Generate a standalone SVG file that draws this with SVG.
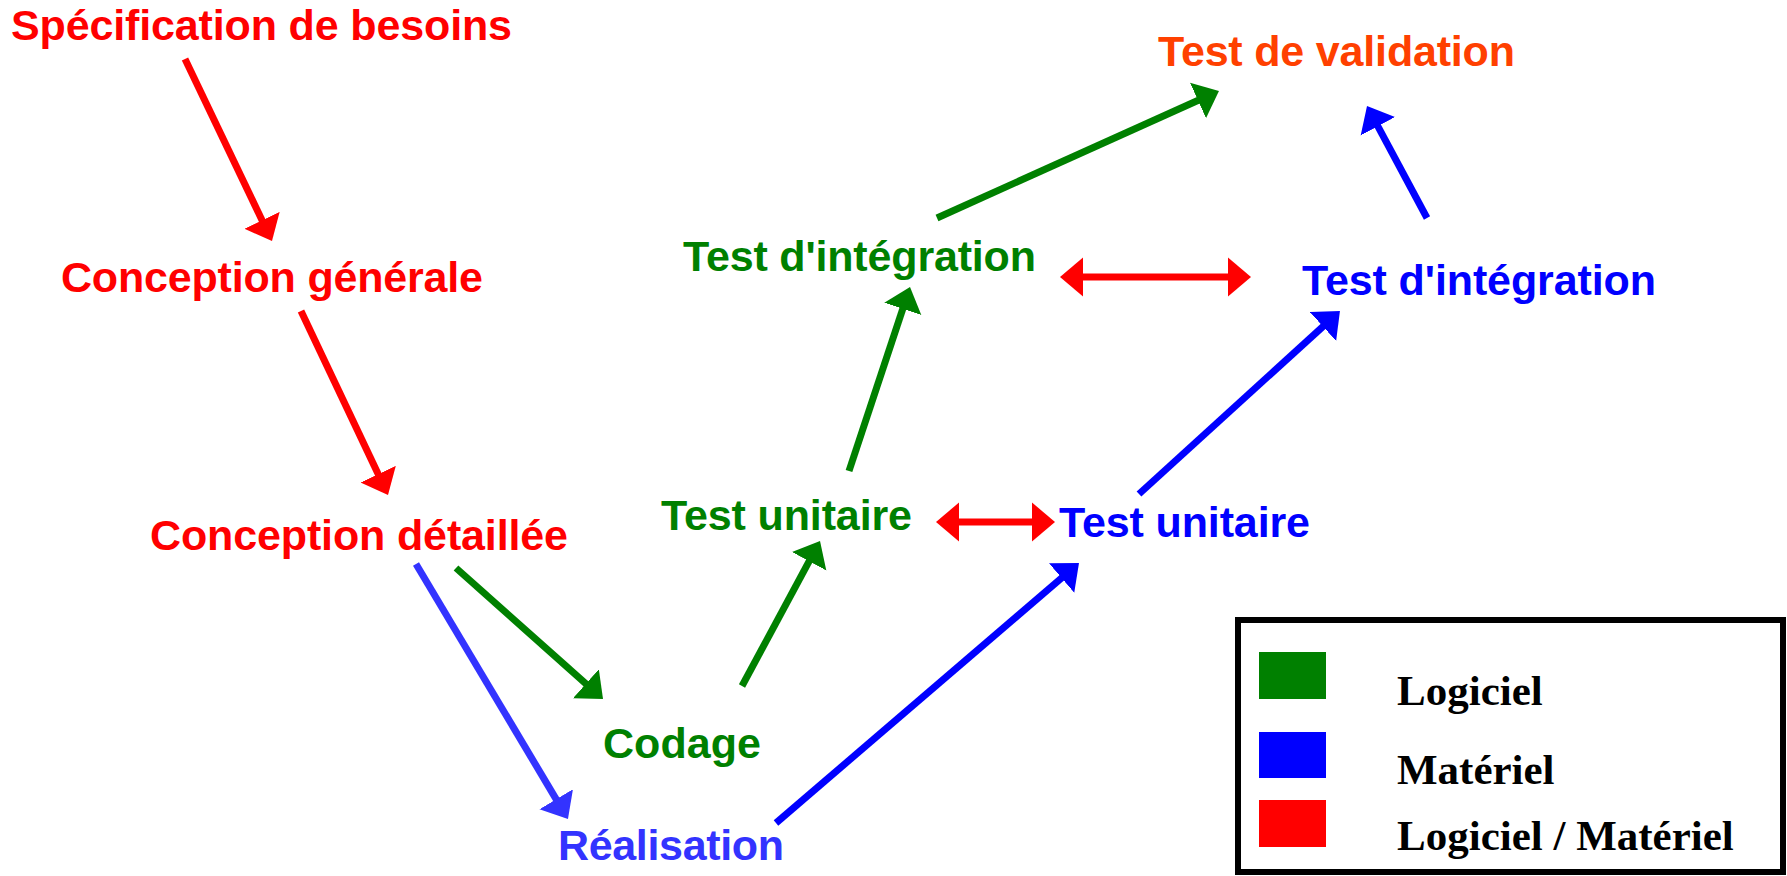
<svg xmlns="http://www.w3.org/2000/svg" width="1787" height="876" viewBox="0 0 1787 876">
  <style>
    .lbl { font-family: "Liberation Sans", Arial, sans-serif; font-weight: bold; font-size: 43px; }
    .red { fill: #ff0000; }
    .green { fill: #008000; }
    .blue { fill: #0000ff; }
    .lblue { fill: #3333ff; }
    .orange { fill: #ff4000; }
    .edge { fill: none; stroke-width: 7; stroke-linecap: butt; }
    .legend-text { font-family: "Liberation Serif", "Times New Roman", serif; font-weight: bold; font-size: 43px; fill: #000; }
  </style>
  <defs>
    <marker id="head-red" markerUnits="userSpaceOnUse" markerWidth="24" markerHeight="40" viewBox="0 -20 24 40" refX="1" refY="0" orient="auto-start-reverse">
      <path d="M0,-19.5 L23,0 L0,19.5 z" fill="#ff0000"/>
    </marker>
    <marker id="head-green" markerUnits="userSpaceOnUse" markerWidth="24" markerHeight="40" viewBox="0 -20 24 40" refX="1" refY="0" orient="auto">
      <path d="M0,-19.5 L23,0 L0,19.5 z" fill="#008000"/>
    </marker>
    <marker id="head-blue" markerUnits="userSpaceOnUse" markerWidth="24" markerHeight="40" viewBox="0 -20 24 40" refX="1" refY="0" orient="auto">
      <path d="M0,-19.5 L23,0 L0,19.5 z" fill="#0000ff"/>
    </marker>
    <marker id="head-lblue" markerUnits="userSpaceOnUse" markerWidth="24" markerHeight="40" viewBox="0 -20 24 40" refX="1" refY="0" orient="auto">
      <path d="M0,-19.5 L23,0 L0,19.5 z" fill="#3333ff"/>
    </marker>
  </defs>

  <rect x="0" y="0" width="1787" height="876" fill="#ffffff"/>

  <!-- connectors -->
  <g id="connectors">
    <line class="edge" x1="185" y1="59" x2="262.5" y2="221.2" stroke="#ff0000" marker-end="url(#head-red)"/>
    <line class="edge" x1="301" y1="311" x2="378.6" y2="475.1" stroke="#ff0000" marker-end="url(#head-red)"/>
    <line class="edge" x1="416" y1="564" x2="556.7" y2="800.1" stroke="#3333ff" marker-end="url(#head-lblue)"/>
    <line class="edge" x1="456" y1="568" x2="586.6" y2="684.4" stroke="#008000" marker-end="url(#head-green)"/>
    <line class="edge" x1="742" y1="686" x2="809.6" y2="560.4" stroke="#008000" marker-end="url(#head-green)"/>
    <line class="edge" x1="849" y1="471" x2="903.1" y2="307.9" stroke="#008000" marker-end="url(#head-green)"/>
    <line class="edge" x1="937" y1="218" x2="1198.9" y2="100" stroke="#008000" marker-end="url(#head-green)"/>
    <line class="edge" x1="776" y1="823" x2="1062.3" y2="577.3" stroke="#0000ff" marker-end="url(#head-blue)"/>
    <line class="edge" x1="1139" y1="494" x2="1323.7" y2="325.8" stroke="#0000ff" marker-end="url(#head-blue)"/>
    <line class="edge" x1="1427" y1="218" x2="1377.4" y2="125.4" stroke="#0000ff" marker-end="url(#head-blue)"/>
    <line class="edge" x1="1082" y1="277" x2="1229" y2="277" stroke="#ff0000" stroke-width="8" marker-start="url(#head-red)" marker-end="url(#head-red)"/>
    <line class="edge" x1="958" y1="522" x2="1033" y2="522" stroke="#ff0000" stroke-width="8" marker-start="url(#head-red)" marker-end="url(#head-red)"/>
  </g>

  <!-- nodes -->
  <g id="specification">
    <text class="lbl red" x="11" y="40" textLength="501">Spécification de besoins</text>
  </g>
  <g id="conception-generale">
    <text class="lbl red" x="61" y="292" textLength="422">Conception générale</text>
  </g>
  <g id="conception-detaillee">
    <text class="lbl red" x="150" y="550" textLength="418">Conception détaillée</text>
  </g>
  <g id="codage">
    <text class="lbl green" x="603" y="758" textLength="158">Codage</text>
  </g>
  <g id="realisation">
    <text class="lbl lblue" x="558" y="860" textLength="226">Réalisation</text>
  </g>
  <g id="test-unitaire-logiciel">
    <text class="lbl green" x="661" y="530" textLength="251">Test unitaire</text>
  </g>
  <g id="test-unitaire-materiel">
    <text class="lbl blue" x="1059" y="537" textLength="251">Test unitaire</text>
  </g>
  <g id="test-integration-logiciel">
    <text class="lbl green" x="683" y="271" textLength="353">Test d'intégration</text>
  </g>
  <g id="test-integration-materiel">
    <text class="lbl blue" x="1302" y="295" textLength="354">Test d'intégration</text>
  </g>
  <g id="test-validation">
    <text class="lbl orange" x="1158" y="66" textLength="357">Test de validation</text>
  </g>

  <!-- legend -->
  <g id="legend">
    <rect x="1238" y="620" width="545" height="252" fill="#ffffff" stroke="#000000" stroke-width="6"/>
    <rect x="1259" y="652" width="67" height="47" fill="#008000"/>
    <rect x="1259" y="732" width="67" height="46" fill="#0000ff"/>
    <rect x="1259" y="800" width="67" height="47" fill="#ff0000"/>
    <text class="legend-text" x="1397" y="705">Logiciel</text>
    <text class="legend-text" x="1397" y="784">Matériel</text>
    <text class="legend-text" x="1397" y="850">Logiciel / Matériel</text>
  </g>
</svg>
